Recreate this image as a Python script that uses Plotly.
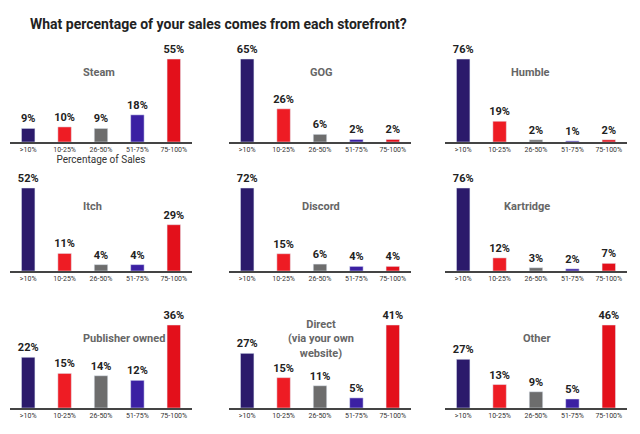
import plotly.graph_objects as go

categories = [">10%", "10-25%", "26-50%", "51-75%", "75-100%"]
panels = ["Steam", "GOG", "Humble", "Itch", "Discord", "Kartridge",
          "Publisher owned", "Direct<br>(via your own<br>website)", "Other"]
values = [
    [9, 10, 9, 18, 55],
    [65, 26, 6, 2, 2],
    [76, 19, 2, 1, 2],
    [52, 11, 4, 4, 29],
    [72, 15, 6, 4, 4],
    [76, 12, 3, 2, 7],
    [22, 15, 14, 12, 36],
    [27, 15, 11, 5, 41],
    [27, 13, 9, 5, 46],
]
colors = ["#2b1a6b", "#ee1c24", "#6d6d6d", "#3b20a3", "#e3101b"]

W, H = 640, 434
col_px = [(2, 184), (221, 403), (437, 619)]
title_x = [73, 313, 544]
base_px = [134, 263, 400]
barh = 83
fac = 1.3

fig = go.Figure()
for i, (name, vals) in enumerate(zip(panels, values)):
    r, c = divmod(i, 3)
    ax = "" if i == 0 else str(i + 1)
    x0, x1 = col_px[c]
    y0 = 1 - base_px[r] / H
    y1 = 1 - (base_px[r] - barh * fac) / H
    fig.add_trace(go.Bar(
        x=categories, y=vals, marker_color=colors, width=0.37,
        text=[f"<b>{v}%</b>" for v in vals], textposition="outside", cliponaxis=False,
        constraintext="none",
        textfont=dict(family="Roboto", size=11, color="#222"),
        xaxis="x" + ax, yaxis="y" + ax, showlegend=False, hoverinfo="skip"))
    mx = max(vals)
    fig.layout["xaxis" + ax] = dict(
        domain=[x0 / W, x1 / W], anchor="y" + ax, showline=True, linecolor="#444",
        linewidth=1.5, ticks="", tickfont=dict(family="Liberation Sans Narrow, Roboto", size=7, color="#333"),
        fixedrange=True, showgrid=False,
        title=dict(text="Percentage of Sales", font=dict(family="Roboto", size=10, color="#333"), standoff=2) if i == 0 else None)
    fig.layout["yaxis" + ax] = dict(
        domain=[y0, y1], anchor="x" + ax, range=[0, mx * fac], visible=False, fixedrange=True)
    title_y = {0: 65, 1: 198, 2: 330}[r]
    fig.add_annotation(text=f"<b>{name}</b>", x=title_x[c] / W, y=1 - title_y / H,
                       xref="paper", yref="paper", showarrow=False, yanchor="middle" if i != 7 else "top",
                       font=dict(family="Roboto", size=11, color="#666"))
    if i == 7:
        fig.layout.annotations[-1].y = 1 - 308 / H

fig.add_annotation(text="<b>What percentage of your sales comes from each storefront?</b>",
                   x=20 / W, y=1 - 6 / H, xref="paper", yref="paper", xanchor="left",
                   showarrow=False, font=dict(family="Roboto", size=14, color="#222"))
fig.update_layout(width=W, height=H, margin=dict(l=0, r=0, t=0, b=0),
                  paper_bgcolor="white", plot_bgcolor="white", bargap=0.6)
fig.write_html("out.html")
